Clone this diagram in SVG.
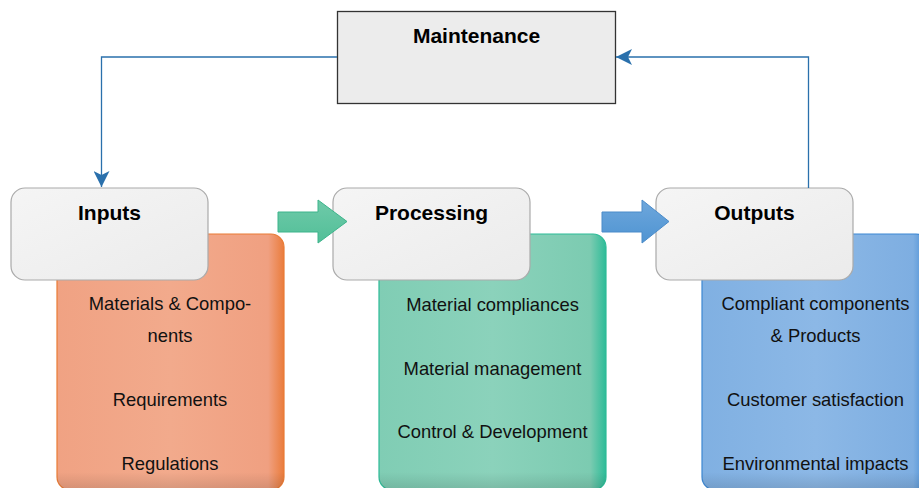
<svg xmlns="http://www.w3.org/2000/svg" width="919" height="488" viewBox="0 0 919 488">
  <defs>
    <linearGradient id="gOrange" x1="0" y1="0" x2="1" y2="0">
      <stop offset="0" stop-color="#f0a283"/>
      <stop offset="0.5" stop-color="#f2aa8c"/>
      <stop offset="0.93" stop-color="#f0a081"/>
      <stop offset="1" stop-color="#ea7c3c"/>
    </linearGradient>
    <linearGradient id="gGreen" x1="0" y1="0" x2="1" y2="0">
      <stop offset="0" stop-color="#80cdb4"/>
      <stop offset="0.5" stop-color="#8bd2bb"/>
      <stop offset="0.93" stop-color="#7ccbb1"/>
      <stop offset="1" stop-color="#2dbc98"/>
    </linearGradient>
    <linearGradient id="gBlue" x1="0" y1="0" x2="1" y2="0">
      <stop offset="0" stop-color="#80b0e2"/>
      <stop offset="0.5" stop-color="#8cb8e6"/>
      <stop offset="0.93" stop-color="#7eaee1"/>
      <stop offset="1" stop-color="#3d88d3"/>
    </linearGradient>
    <linearGradient id="gBottom" x1="0" y1="0" x2="0" y2="1">
      <stop offset="0.93" stop-color="#000" stop-opacity="0"/>
      <stop offset="1" stop-color="#000" stop-opacity="0.12"/>
    </linearGradient>
    <linearGradient id="gHead" x1="0" y1="0" x2="1" y2="1">
      <stop offset="0" stop-color="#f5f5f5"/>
      <stop offset="1" stop-color="#ebebeb"/>
    </linearGradient>
    <linearGradient id="gArrowGreen" x1="0" y1="0" x2="0" y2="1">
      <stop offset="0" stop-color="#6fcaa9"/>
      <stop offset="1" stop-color="#52bf98"/>
    </linearGradient>
    <linearGradient id="gArrowBlue" x1="0" y1="0" x2="0" y2="1">
      <stop offset="0" stop-color="#6ea7dc"/>
      <stop offset="1" stop-color="#4f94d2"/>
    </linearGradient>
    <marker id="arr" viewBox="0 0 16 16" refX="16" refY="8" markerWidth="16" markerHeight="16" markerUnits="userSpaceOnUse" orient="auto">
      <path d="M0,0 L16,8 L0,16 L4,8 Z" fill="#2a70ac"/>
    </marker>
  </defs>
  <style>
    .title { font-family: "Liberation Sans", Arial, sans-serif; font-weight: bold; font-size: 21px; fill: #000; text-anchor: middle; }
    .body { font-family: "Liberation Sans", Arial, sans-serif; font-size: 18.4px; fill: #111; text-anchor: middle; }
    .head { fill: url(#gHead); stroke: #aaaaaa; stroke-width: 1.2; }
    .conn { fill: none; stroke: #2a70ac; stroke-width: 1.3; }
  </style>

  <g id="inputs-list">
    <rect x="57" y="234" width="227" height="256" rx="13" fill="url(#gOrange)" stroke="#e97b35" stroke-width="1.2"/>
    <rect x="57" y="234" width="227" height="256" rx="13" fill="url(#gBottom)"/>
    <text class="body" x="170" y="310">Materials &amp; Compo-</text>
    <text class="body" x="170" y="342">nents</text>
    <text class="body" x="170" y="406">Requirements</text>
    <text class="body" x="170" y="470">Regulations</text>
  </g>
  <g id="processing-list">
    <rect x="379" y="234" width="227" height="256" rx="13" fill="url(#gGreen)" stroke="#2dbc98" stroke-width="1.2"/>
    <rect x="379" y="234" width="227" height="256" rx="13" fill="url(#gBottom)"/>
    <text class="body" x="492.5" y="311">Material compliances</text>
    <text class="body" x="492.5" y="375">Material management</text>
    <text class="body" x="492.5" y="438">Control &amp; Development</text>
  </g>
  <g id="outputs-list">
    <rect x="702" y="234" width="227" height="256" rx="13" fill="url(#gBlue)" stroke="#3d88d3" stroke-width="1.2"/>
    <rect x="702" y="234" width="227" height="256" rx="13" fill="url(#gBottom)"/>
    <text class="body" x="815.5" y="310">Compliant components</text>
    <text class="body" x="815.5" y="342">&amp; Products</text>
    <text class="body" x="815.5" y="406">Customer satisfaction</text>
    <text class="body" x="815.5" y="470">Environmental impacts</text>
  </g>

  <g id="maintenance">
    <rect x="337.5" y="11.5" width="278" height="92" fill="#ececec" stroke="#333" stroke-width="1.3"/>
    <text class="title" x="476.5" y="43">Maintenance</text>
  </g>
  <g id="inputs">
    <rect x="11" y="188" width="197" height="92" rx="14" class="head"/>
    <text class="title" x="109.5" y="220">Inputs</text>
  </g>
  <g id="processing">
    <rect x="333" y="188" width="197" height="92" rx="14" class="head"/>
    <text class="title" x="431.5" y="220">Processing</text>
  </g>
  <g id="outputs">
    <rect x="656" y="188" width="197" height="92" rx="14" class="head"/>
    <text class="title" x="754.5" y="220">Outputs</text>
  </g>

  <g id="connectors">
    <path class="conn" d="M337,57 H101.5 V187" marker-end="url(#arr)"/>
    <path class="conn" d="M808.5,188 V57 H616" marker-end="url(#arr)"/>
    <path d="M278,212 H318 V200 L347,221.5 L318,243 V232 H278 Z" fill="url(#gArrowGreen)" stroke="#3cb48b" stroke-width="1"/>
    <path d="M602,212 H642 V200 L669,221.5 L642,243 V232 H602 Z" fill="url(#gArrowBlue)" stroke="#4a8bc9" stroke-width="1"/>
  </g>
</svg>
